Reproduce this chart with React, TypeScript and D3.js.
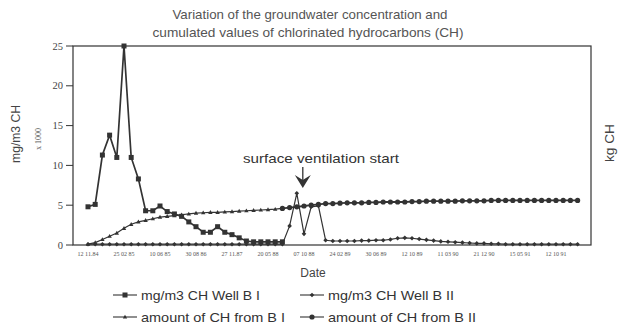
import React from "react";
import * as d3 from "d3";

const W = 619;
const H = 326;

const dateLabels = [
  "12 11.84", "25 02 85", "10 06 85", "30 08 86", "27 11.87", "20 05 88", "07 10 88",
  "24 02 89", "30 06 89", "12 10 89", "11 03 90", "21 12 90", "15 05 91", "12 10 91",
];
const labelEvery = 5;
const nPoints = 69;

// mg/m3 CH Well B I (index 0..27)
const wellB1 = [4.8, 5.1, 11.3, 13.8, 11.0, 25, 11.0, 8.3, 4.3, 4.3, 4.9, 4.2, 3.9, 3.6, 2.9, 2.3, 1.6, 1.6, 2.3, 1.6, 1.3, 0.9, 0.5, 0.4, 0.4, 0.4, 0.4, 0.4];
// mg/m3 CH Well B II (index 0..68)
const wellB2 = [
  0.1, 0.1, 0.1, 0.1, 0.1, 0.1, 0.1, 0.1, 0.1, 0.1, 0.1, 0.1, 0.1, 0.1,
  0.1, 0.1, 0.1, 0.1, 0.1, 0.1, 0.1, 0.1, 0.1, 0.1, 0.1, 0.1, 0.1, 0.1,
  2.4, 6.5, 1.4, 4.8, 4.9, 0.6,
  0.5, 0.5, 0.5, 0.5, 0.55, 0.55, 0.6, 0.6, 0.7, 0.85,
  0.9, 0.85, 0.75, 0.65, 0.55, 0.45, 0.4, 0.35, 0.3, 0.25,
  0.2, 0.2, 0.15, 0.15, 0.1, 0.1, 0.1, 0.1, 0.1, 0.1,
  0.1, 0.1, 0.1, 0.1, 0.1,
];
// amount of CH from B I (index 0..27)
const amountB1 = [0.1, 0.3, 0.7, 1.1, 1.5, 2.1, 2.6, 2.9, 3.1, 3.3, 3.5, 3.6, 3.7, 3.8, 3.9, 4.0, 4.05, 4.1, 4.1, 4.15, 4.2, 4.25, 4.3, 4.35, 4.4, 4.45, 4.5, 4.6];
// amount of CH from B II (index 27..68)
const amountB2Start = 27;
const amountB2 = [
  4.6, 4.7, 4.8, 4.9, 5.0, 5.1, 5.2, 5.2, 5.25, 5.3,
  5.3, 5.3, 5.35, 5.35, 5.4, 5.4, 5.4, 5.4, 5.45, 5.45,
  5.5, 5.5, 5.5, 5.5, 5.5, 5.55, 5.55, 5.55, 5.55, 5.6,
  5.6, 5.6, 5.6, 5.6, 5.6, 5.6, 5.6, 5.6, 5.6, 5.6,
  5.6, 5.6,
];
const yTicks = [0, 5, 10, 15, 20, 25];

const legendItems = [
  { label: "mg/m3 CH Well B I", marker: "square", len: 119 },
  { label: "mg/m3 CH Well B II", marker: "diamond", len: 126 },
  { label: "amount of CH from B I", marker: "triangle", len: 144 },
  { label: "amount of CH from B II", marker: "circle", len: 148 },
];

const INK = "#333";
const SANS = "'Liberation Sans', Arial, sans-serif";
const SERIF = "'Liberation Serif', 'Times New Roman', serif";

const plot = { left: 73, right: 591, top: 46, bottom: 245 };

function Marker({ type, x, y }: { type: string; x: number; y: number }) {
  if (type === "square") return <rect x={x - 2.5} y={y - 2.5} width={5} height={5} fill={INK} />;
  if (type === "diamond") return <path d={`M${x},${y - 2.3}L${x + 2.3},${y}L${x},${y + 2.3}L${x - 2.3},${y}Z`} fill={INK} />;
  if (type === "triangle") return <path d={`M${x},${y - 2.3}L${x + 2.2},${y + 1.6}L${x - 2.2},${y + 1.6}Z`} fill={INK} />;
  return <circle cx={x} cy={y} r={2.6} fill={INK} />;
}

export default function App() {
  const x = d3.scaleLinear().domain([0, nPoints - 1]).range([88, 577.6]);
  const y = d3.scaleLinear().domain([0, 25]).range([plot.bottom, plot.top]);

  const line = d3.line<[number, number]>().x((d) => x(d[0])).y((d) => y(d[1]));

  const s1 = wellB1.map((v, i) => [i, v] as [number, number]);
  const s2 = wellB2.map((v, i) => [i, v] as [number, number]);
  const s3 = amountB1.map((v, i) => [i, v] as [number, number]);
  const s4 = amountB2.map((v, i) => [i + amountB2Start, v] as [number, number]);

  const series = [
    { data: s1, marker: "square", width: 1.7 },
    { data: s2, marker: "diamond", width: 1.2 },
    { data: s3, marker: "triangle", width: 1.2 },
    { data: s4, marker: "circle", width: 1.8 },
  ];

  const arrowX = x(29) + 6;

  return (
    <svg width={W} height={H} style={{ position: "fixed", left: 0, top: 0, background: "#fff" }}>
      <text x={310} y={19} textAnchor="middle" fontFamily={SANS} fontSize={13} fill="#555" textLength={275} lengthAdjust="spacingAndGlyphs">
        Variation of the groundwater concentration and
      </text>
      <text x={308} y={37} textAnchor="middle" fontFamily={SANS} fontSize={13} fill="#555" textLength={311} lengthAdjust="spacingAndGlyphs">
        cumulated values of chlorinated hydrocarbons (CH)
      </text>

      <rect x={plot.left} y={plot.top} width={plot.right - plot.left} height={plot.bottom - plot.top} fill="none" stroke={INK} strokeWidth={1.2} />

      {yTicks.map((t) => (
        <g key={t}>
          <line x1={plot.left - 7} x2={plot.left} y1={y(t)} y2={y(t)} stroke={INK} strokeWidth={1} />
          <text x={63} y={y(t) + 3.5} textAnchor="end" fontFamily={SERIF} fontSize={10.5} fill="#444">
            {t}
          </text>
        </g>
      ))}

      {dateLabels.map((lab, k) => (
        <text key={k} x={x(k * labelEvery)} y={256} textAnchor="middle" fontFamily={SERIF} fontSize={6} fill="#555">
          {lab}
        </text>
      ))}

      <text transform={`translate(20,134) rotate(-90)`} textAnchor="middle" fontFamily={SANS} fontSize={12} fill="#444" textLength={58} lengthAdjust="spacingAndGlyphs">
        mg/m3  CH
      </text>
      <text transform={`translate(41,139) rotate(-90)`} textAnchor="middle" fontFamily={SERIF} fontSize={8} fill="#555">
        x 1000
      </text>
      <text transform={`translate(614,143) rotate(-90)`} textAnchor="middle" fontFamily={SANS} fontSize={12} fill="#444" textLength={38} lengthAdjust="spacingAndGlyphs">
        kg CH
      </text>
      <text x={313} y={277} textAnchor="middle" fontFamily={SANS} fontSize={12} fill="#444">
        Date
      </text>

      {series.map((s, si) => (
        <g key={si}>
          <path d={line(s.data) || ""} fill="none" stroke={INK} strokeWidth={s.width} />
          {s.data.map((d, i) => (
            <Marker key={i} type={s.marker} x={x(d[0])} y={y(d[1])} />
          ))}
        </g>
      ))}

      <text x={321} y={163} textAnchor="middle" fontFamily={SANS} fontSize={13} fill="#333" textLength={156} lengthAdjust="spacingAndGlyphs">
        surface ventilation start
      </text>
      <line x1={arrowX} x2={arrowX} y1={167} y2={184} stroke={INK} strokeWidth={1.3} />
      <path d={`M${arrowX - 8},175 L${arrowX},180 L${arrowX + 8},175 L${arrowX},188 Z`} fill={INK} />

      {legendItems.map((it, k) => {
        const col = k % 2;
        const row = Math.floor(k / 2);
        const lx = col === 0 ? 113 : 300;
        const ly = row === 0 ? 295 : 317;
        return (
          <g key={k}>
            <line x1={lx} x2={lx + 24} y1={ly} y2={ly} stroke={INK} strokeWidth={1.1} />
            <Marker type={it.marker} x={lx + 12} y={ly} />
            <text x={lx + 28} y={ly + 4.5} fontFamily={SANS} fontSize={13} fill="#333" textLength={it.len} lengthAdjust="spacingAndGlyphs">
              {it.label}
            </text>
          </g>
        );
      })}
    </svg>
  );
}
